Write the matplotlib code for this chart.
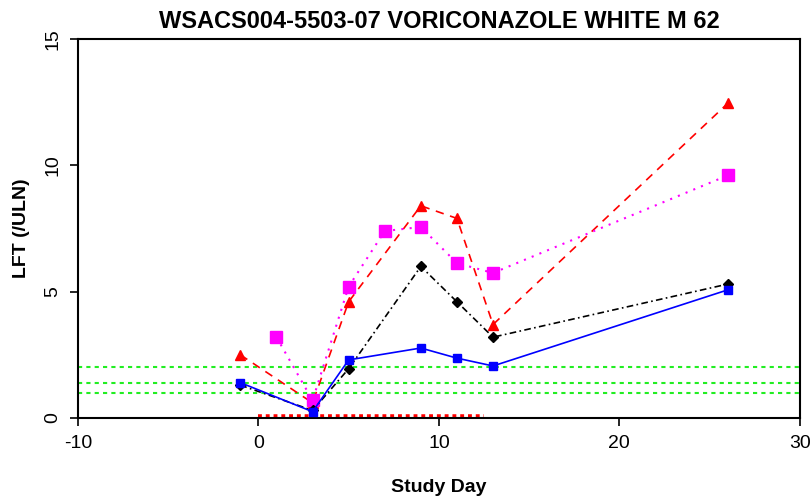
import numpy as np
import matplotlib.pyplot as plt

plt.rcParams['font.family'] = ['Liberation Sans', 'DejaVu Sans']
plt.rcParams['axes.unicode_minus'] = False

# study days and LFT values (/ULN)
days = [-1, 3, 5, 9, 11, 13, 26]
alt = [1.40, 0.25, 2.30, 2.77, 2.37, 2.06, 5.07]        # blue, solid
ast = [1.30, 0.30, 1.95, 6.00, 4.60, 3.20, 5.30]        # black, dash-dot
alp_days = [-1, 3, 5, 9, 11, 13, 26]
alp = [2.50, 0.60, 4.60, 8.40, 7.90, 3.70, 12.45]       # red, dashed
bili_days = [1, 3, 5, 7, 9, 11, 13, 26]
bili = [3.20, 0.70, 5.20, 7.40, 7.56, 6.13, 5.74, 9.60]  # magenta, dotted

ref_lines = [1.0, 1.4, 2.0]
dose_start, dose_end = 0, 12.5

fig = plt.figure(figsize=(8.12, 5.04), dpi=100)
ax = fig.add_axes([0.096, 0.1706, 0.889, 0.752])

for r in ref_lines:
    ax.axhline(r, color='#22ee22', ls=(0, (2, 2)), lw=1.5, zorder=1)

ax.plot([dose_start, dose_end], [0.06, 0.06], color='red', lw=4,
        ls=(0, (0.7, 0.7)), solid_capstyle='butt', zorder=2)

ax.plot(alp_days, alp, color='red', ls=(0, (5, 4)), lw=1.2,
        marker='^', ms=7, zorder=3)
ax.plot(bili_days, bili, color='magenta', ls=(0, (1, 3)), lw=1.5,
        marker='s', ms=9, zorder=3)
ax.plot(days, ast, color='black', ls=(0, (4, 2, 1, 2)), lw=1.2,
        marker='D', ms=5, zorder=4)
ax.plot(days, alt, color='blue', ls='-', lw=1.2,
        marker='s', ms=6, zorder=5)

ax.set_xlim(-10, 30)
ax.set_ylim(0, 15)
ax.set_xticks([-10, 0, 10, 20, 30])
ax.set_yticks([0, 5, 10, 15])
ax.tick_params(labelsize=14, length=6, width=1.2, direction='out', pad=6)
ax.tick_params(axis='y', labelrotation=90)
for lab in ax.get_yticklabels():
    lab.set_va('center')
for s in ax.spines.values():
    s.set_linewidth(1.5)

ax.set_xlabel('Study Day', fontsize=14, fontweight='bold', labelpad=20)
ax.set_ylabel('LFT (/ULN)', fontsize=14, fontweight='bold', labelpad=10)
ax.set_title('WSACS004-5503-07 VORICONAZOLE WHITE M 62', fontsize=17,
             fontweight='bold', pad=8)

fig.savefig('out.png', dpi=100)
